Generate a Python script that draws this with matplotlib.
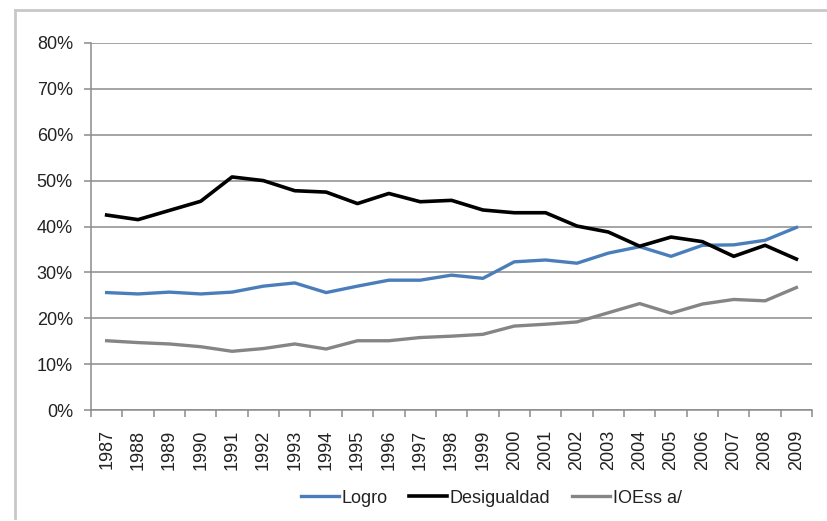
import matplotlib
matplotlib.use("Agg")
import matplotlib.pyplot as plt
from matplotlib.ticker import FixedLocator, PercentFormatter
import numpy as np

plt.rcParams['font.family'] = ['Liberation Sans', 'DejaVu Sans']

# ── Data ──────────────────────────────────────────────────────
years = [str(y) for y in range(1987, 2010)]
logro = [25.6, 25.3, 25.7, 25.3, 25.7, 27.0, 27.7, 25.6, 27.0, 28.3, 28.3, 29.4,
         28.7, 32.3, 32.7, 32.0, 34.2, 35.6, 33.5, 35.9, 36.0, 37.0, 39.8]
desigualdad = [42.5, 41.5, 43.5, 45.5, 50.8, 50.0, 47.8, 47.5, 45.0, 47.2, 45.4, 45.7,
               43.6, 43.0, 43.0, 40.1, 38.8, 35.7, 37.7, 36.7, 33.5, 35.9, 32.9]
ioess = [15.1, 14.7, 14.4, 13.8, 12.8, 13.4, 14.4, 13.3, 15.1, 15.1, 15.8, 16.1,
         16.5, 18.3, 18.7, 19.2, 21.2, 23.2, 21.1, 23.1, 24.1, 23.8, 26.7]
yticks = [0, 10, 20, 30, 40, 50, 60, 70, 80]

# ── Figure ───────────────────────────────────────────────────
fig = plt.figure(figsize=(8.27, 5.21), dpi=100)
ax = fig.add_axes([0.110, 0.213, 0.872, 0.7045])

x = np.arange(len(years))
ax.plot(x, logro, color="#4a7ebb", lw=2.4, label="Logro", solid_joinstyle="round")
ax.plot(x, desigualdad, color="black", lw=2.6, label="Desigualdad", solid_joinstyle="round")
ax.plot(x, ioess, color="#858585", lw=2.4, label="IOEss a/", solid_joinstyle="round")

ax.set_xlim(-0.5, len(years) - 0.5)
ax.set_ylim(0, 80)
ax.set_yticks(yticks)
ax.yaxis.set_major_formatter(PercentFormatter(decimals=0))
ax.yaxis.grid(True, color="#8c8c8c", lw=1.1)
ax.set_axisbelow(True)

ax.xaxis.set_major_locator(FixedLocator(np.arange(-0.5, len(years), 1.0)))
ax.xaxis.set_major_formatter(plt.NullFormatter())
ax.xaxis.set_minor_locator(FixedLocator(x))
ax.set_xticklabels(years, minor=True, rotation=90)
ax.tick_params(axis="x", which="minor", length=0, pad=14, labelsize=13, colors="#222222")
ax.tick_params(axis="x", which="major", length=5, color="#8c8c8c", width=1.1)
ax.tick_params(axis="y", length=5, color="#8c8c8c", width=1.1, labelsize=13,
               labelcolor="#222222", pad=8)

for s in ["top", "right"]:
    ax.spines[s].set_visible(False)
for s in ["left", "bottom"]:
    ax.spines[s].set_color("#8c8c8c")
    ax.spines[s].set_linewidth(1.1)

fig.legend(loc="center", bbox_to_anchor=(0.594, 0.044), ncol=3, frameon=False,
           fontsize=13, handlelength=2.1, handletextpad=0.15, columnspacing=1.2,
           labelcolor="#222222")

# outer chart frame
fig.add_artist(plt.Line2D([15/827, 15/827], [0.005, 1 - 10/521], color="#c8c8c8", lw=2,
                          transform=fig.transFigure))
fig.add_artist(plt.Line2D([15/827, 1.0], [1 - 10/521, 1 - 10/521], color="#c8c8c8", lw=2,
                          transform=fig.transFigure))

fig.savefig("out.png", dpi=100)
